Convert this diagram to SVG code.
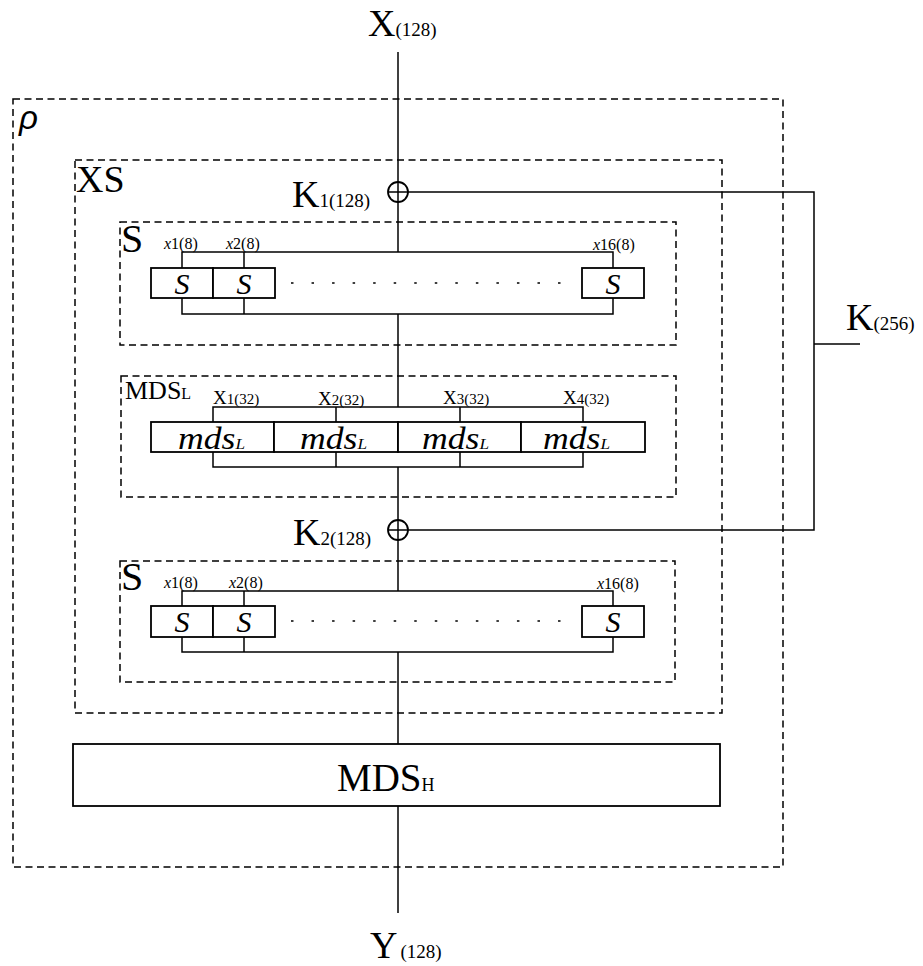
<svg xmlns="http://www.w3.org/2000/svg" width="923" height="966" viewBox="0 0 923 966">
<style>
.dash{fill:none;stroke:#000;stroke-width:1.5;stroke-dasharray:7 4.5}
.ln{fill:none;stroke:#000;stroke-width:1.5}
.bx{fill:#fff;stroke:#000;stroke-width:1.8}
.dots{fill:none;stroke:#000;stroke-width:1.6;stroke-dasharray:2.5 18.04}
text{font-family:"Liberation Serif","Times New Roman",serif;fill:#000}
.big{font-size:38px}
.sub{font-size:19px}
.sx{font-size:16px}
.si{font-size:30px;font-style:italic}
.it{font-style:italic}
.mds{font-size:31px;font-style:italic}
.mdsl{font-size:15px}
</style>
<rect width="923" height="966" fill="#fff"/>

<g id="connectors">
  <line class="ln" x1="398" y1="52" x2="398" y2="252"/>
  <line class="ln" x1="398" y1="314" x2="398" y2="407"/>
  <line class="ln" x1="398" y1="467" x2="398" y2="591"/>
  <line class="ln" x1="398" y1="652" x2="398" y2="744"/>
  <line class="ln" x1="398" y1="806" x2="398" y2="913"/>
  <polyline class="ln" points="388,192 814,192 814,530 388,530"/>
  <line class="ln" x1="814" y1="344" x2="860" y2="344"/>
</g>

<g id="rho">
  <rect class="dash" x="13" y="99" width="770" height="768"/>
  <text x="19" y="129" style="font-family:'Liberation Sans',Arial,sans-serif;font-size:33px;font-style:italic">ρ</text>
</g>

<g id="xs">
  <rect class="dash" x="75" y="160" width="647" height="553"/>
  <text class="big" x="76" y="192">XS</text>
</g>

<g id="input-x">
  <text class="big" x="368" y="36">X<tspan class="sub">(128)</tspan></text>
</g>

<g id="xor-k1">
  <circle cx="398" cy="192" r="10" fill="none" stroke="#000" stroke-width="1.8"/>
  <text class="big" x="292" y="207">K<tspan class="sub">1(128)</tspan></text>
</g>

<g id="xor-k2">
  <circle cx="398" cy="530" r="10" fill="none" stroke="#000" stroke-width="1.8"/>
  <text class="big" x="293" y="545">K<tspan class="sub">2(128)</tspan></text>
</g>

<g id="key">
  <text class="big" x="846" y="330">K<tspan class="sub">(256)</tspan></text>
</g>

<g id="s-layer-1">
  <rect class="dash" x="120" y="222" width="556" height="123"/>
  <text x="121" y="252" style="font-size:40px">S</text>
  <polyline class="ln" points="182,268 182,252 613,252 613,268"/>
  <line class="ln" x1="244" y1="252" x2="244" y2="268"/>
  <polyline class="ln" points="182,298 182,314 613,314 613,298"/>
  <line class="ln" x1="244" y1="298" x2="244" y2="314"/>
  <rect class="bx" x="151" y="268" width="62" height="30"/>
  <rect class="bx" x="213" y="268" width="62" height="30"/>
  <rect class="bx" x="582" y="268" width="62" height="30"/>
  <text class="si" x="182" y="294" text-anchor="middle">S</text>
  <text class="si" x="244" y="294" text-anchor="middle">S</text>
  <text class="si" x="613" y="294" text-anchor="middle">S</text>
  <line class="dots" x1="291" y1="283" x2="562" y2="283"/>
  <text class="sx" x="164" y="249"><tspan class="it">x</tspan>1(8)</text>
  <text class="sx" x="226" y="249"><tspan class="it">x</tspan>2(8)</text>
  <text class="sx" x="593" y="250"><tspan class="it">x</tspan>16(8)</text>
</g>

<g id="mdsl-layer">
  <rect class="dash" x="121" y="376" width="555" height="121"/>
  <text x="125" y="399" style="font-size:26px">MDS<tspan style="font-size:16px">L</tspan></text>
  <polyline class="ln" points="213,422 213,407 583,407 583,422"/>
  <line class="ln" x1="336" y1="407" x2="336" y2="422"/>
  <line class="ln" x1="460" y1="407" x2="460" y2="422"/>
  <polyline class="ln" points="213,452 213,467 583,467 583,452"/>
  <line class="ln" x1="336" y1="452" x2="336" y2="467"/>
  <line class="ln" x1="460" y1="452" x2="460" y2="467"/>
  <rect class="bx" x="151" y="422" width="123" height="30"/>
  <rect class="bx" x="274" y="422" width="124" height="30"/>
  <rect class="bx" x="398" y="422" width="123" height="30"/>
  <rect class="bx" x="521" y="422" width="124" height="30"/>
  <text class="mds" transform="translate(178,449) scale(1.15,1)">mds<tspan class="mdsl">L</tspan></text>
  <text class="mds" transform="translate(300,449) scale(1.15,1)">mds<tspan class="mdsl">L</tspan></text>
  <text class="mds" transform="translate(422,449) scale(1.15,1)">mds<tspan class="mdsl">L</tspan></text>
  <text class="mds" transform="translate(543,449) scale(1.15,1)">mds<tspan class="mdsl">L</tspan></text>
  <text x="213" y="404" style="font-size:19px">X<tspan style="font-size:15px">1(32)</tspan></text>
  <text x="318" y="405" style="font-size:19px">X<tspan style="font-size:15px">2(32)</tspan></text>
  <text x="443" y="404" style="font-size:19px">X<tspan style="font-size:15px">3(32)</tspan></text>
  <text x="563" y="404" style="font-size:19px">X<tspan style="font-size:15px">4(32)</tspan></text>
</g>

<g id="s-layer-2">
  <rect class="dash" x="120" y="561" width="555" height="121"/>
  <text x="121" y="590" style="font-size:40px">S</text>
  <polyline class="ln" points="182,606 182,591 613,591 613,606"/>
  <line class="ln" x1="244" y1="591" x2="244" y2="606"/>
  <polyline class="ln" points="182,637 182,652 613,652 613,637"/>
  <line class="ln" x1="244" y1="637" x2="244" y2="652"/>
  <rect class="bx" x="151" y="606" width="62" height="31"/>
  <rect class="bx" x="213" y="606" width="62" height="31"/>
  <rect class="bx" x="582" y="606" width="62" height="31"/>
  <text class="si" x="182" y="632" text-anchor="middle">S</text>
  <text class="si" x="244" y="632" text-anchor="middle">S</text>
  <text class="si" x="613" y="632" text-anchor="middle">S</text>
  <line class="dots" x1="291" y1="621" x2="562" y2="621"/>
  <text class="sx" x="164" y="588"><tspan class="it">x</tspan>1(8)</text>
  <text class="sx" x="229" y="588"><tspan class="it">x</tspan>2(8)</text>
  <text class="sx" x="597" y="589"><tspan class="it">x</tspan>16(8)</text>
</g>

<g id="mdsh">
  <rect class="bx" x="73" y="744" width="647" height="62"/>
  <text x="337" y="791" style="font-size:39px">MDS<tspan style="font-size:18px">H</tspan></text>
</g>

<g id="output-y">
  <text class="big" x="370" y="958">Y<tspan class="sub" dx="3">(128)</tspan></text>
</g>
</svg>
